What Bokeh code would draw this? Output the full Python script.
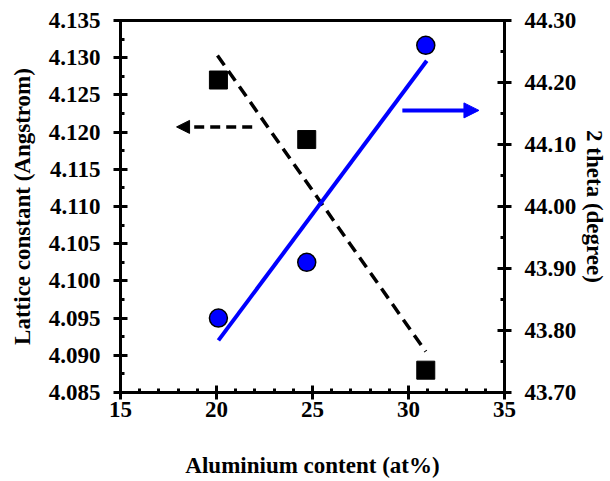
from bokeh.plotting import figure
from bokeh.models import (Range1d, LinearAxis, FixedTicker, NumeralTickFormatter,
                          Arrow, NormalHead)
from bokeh.embed import file_html
from bokeh.resources import INLINE

# ---- data ----
al_content = [20.1, 24.7, 30.9]
lattice = [4.127, 4.119, 4.088]
two_theta = [43.82, 43.91, 44.26]

lattice_fit_x = [20.05, 30.9]
lattice_fit_y = [4.1303, 4.0905]
theta_fit_x = [20.1, 30.95]
theta_fit_y = [43.784, 44.235]

arrow_lattice = dict(x_start=21.86, x_end=17.92, y=4.1207)
arrow_theta = dict(x_start=29.68, x_end=33.67, y=44.155)

x_ticks = [15, 20, 25, 30, 35]
x_minor = [16, 17, 18, 19, 21, 22, 23, 24, 26, 27, 28, 29, 31, 32, 33, 34]
y_ticks = [4.085, 4.090, 4.095, 4.100, 4.105, 4.110, 4.115, 4.120, 4.125, 4.130, 4.135]
y_minor = [4.0875, 4.0925, 4.0975, 4.1025, 4.1075, 4.1125, 4.1175, 4.1225, 4.1275, 4.1325]
y2_ticks = [43.70, 43.80, 43.90, 44.00, 44.10, 44.20, 44.30]
y2_minor = [43.75, 43.85, 43.95, 44.05, 44.15, 44.25]

BLUE = "#0000FF"
FONT = "Liberation Serif"
FS = "23px"

p = figure(width=610, height=481, output_backend="svg", toolbar_location=None,
           x_range=Range1d(15, 35), y_range=Range1d(4.085, 4.135),
           min_border_left=120, min_border_right=106, min_border_top=20,
           min_border_bottom=89)
p.extra_y_ranges = {"right": Range1d(43.70, 44.30)}
p.grid.visible = False
p.outline_line_color = "black"
p.outline_line_width = 3
p.outline_line_alpha = 1.0
p.background_fill_color = "white"
p.border_fill_color = "white"

right_axis = LinearAxis(y_range_name="right")
p.add_layout(right_axis, "right")


def style_axis(ax, ticks, minor, fmt, label, standoff, label_standoff):
    ax.ticker = FixedTicker(ticks=ticks, minor_ticks=minor)
    ax.formatter = NumeralTickFormatter(format=fmt)
    ax.axis_label = label
    ax.axis_label_text_font = FONT
    ax.axis_label_text_font_style = "bold"
    ax.axis_label_text_font_size = FS
    ax.axis_label_text_color = "black"
    ax.axis_label_standoff = label_standoff
    ax.major_label_text_font = FONT
    ax.major_label_text_font_style = "bold"
    ax.major_label_text_font_size = FS
    ax.major_label_text_color = "black"
    ax.major_label_standoff = standoff
    ax.axis_line_width = 3
    ax.axis_line_color = "black"
    ax.major_tick_line_width = 3
    ax.major_tick_line_color = "black"
    ax.major_tick_in = 7
    ax.major_tick_out = 7
    ax.minor_tick_line_width = 3
    ax.minor_tick_line_color = "black"
    ax.minor_tick_in = 4
    ax.minor_tick_out = 0


style_axis(p.xaxis[0], x_ticks, x_minor, "0", "Aluminium content (at%)", 2, 33)
style_axis(p.yaxis[0], y_ticks, y_minor, "0.000", "Lattice constant (Angstrom)", 13, 11)
style_axis(right_axis, y2_ticks, y2_minor, "0.00", "2 theta (degree)", 13, 3)

# fit lines
p.line(lattice_fit_x, lattice_fit_y, line_color="black", line_width=3.5,
       line_dash="12 7")
p.line(theta_fit_x, theta_fit_y, line_color=BLUE, line_width=4,
       y_range_name="right")

# markers
p.scatter(al_content, lattice, marker="square", size=18, fill_color="black",
          line_color="black")
p.scatter(al_content, two_theta, marker="circle", size=18, fill_color=BLUE,
          line_color="black", line_width=1.5, y_range_name="right")

# arrows
p.add_layout(Arrow(x_start=arrow_lattice["x_start"], y_start=arrow_lattice["y"],
                   x_end=arrow_lattice["x_end"], y_end=arrow_lattice["y"],
                   line_color="black", line_width=3.5, line_dash="10 6",
                   end=NormalHead(size=13, fill_color="black", line_color="black",
                                  line_width=1)))
p.add_layout(Arrow(x_start=arrow_theta["x_start"], y_start=arrow_theta["y"],
                   x_end=arrow_theta["x_end"], y_end=arrow_theta["y"],
                   line_color=BLUE, line_width=4, y_range_name="right",
                   end=NormalHead(size=15, fill_color=BLUE, line_color=BLUE,
                                  line_width=1)))

open("out.html", "w").write(file_html(p, INLINE))
